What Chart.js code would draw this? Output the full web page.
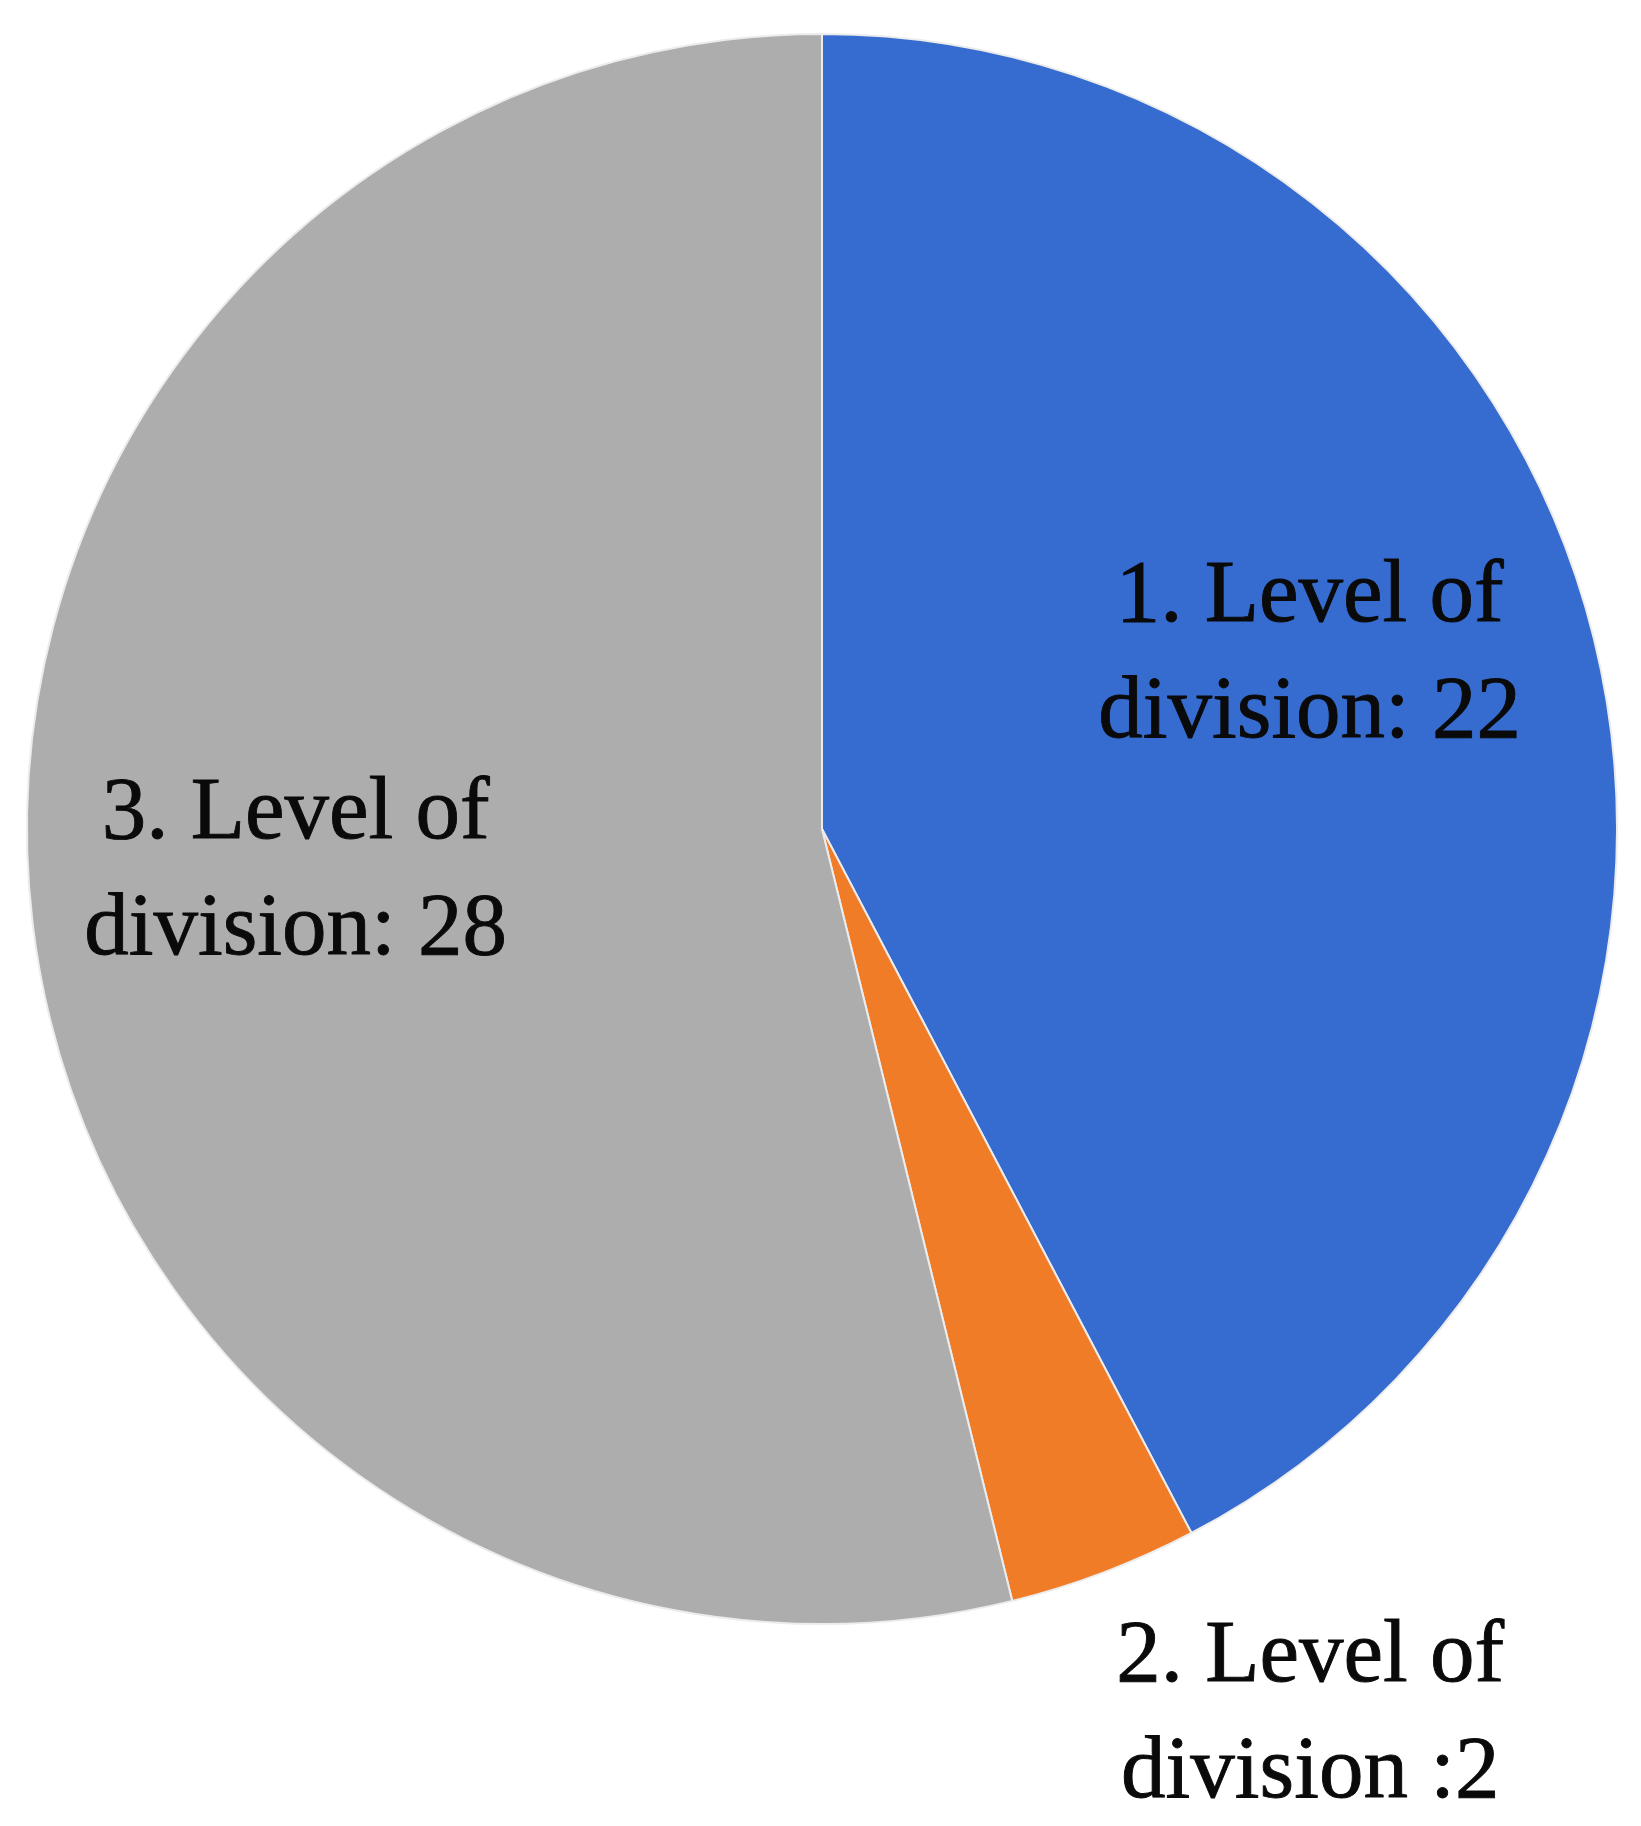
<!DOCTYPE html>
<html>
<head>
<meta charset="utf-8">
<title>Level of division</title>
<script src="https://cdn.jsdelivr.net/npm/chart.js@4.4.1/dist/chart.umd.min.js"></script>
<style>
  html, body { margin: 0; padding: 0; background: #ffffff; }
  canvas { display: block; }
</style>
</head>
<body>
<canvas id="pieChart" width="1641" height="1826"></canvas>
<script>
const categories = ['1. Level of division', '2. Level of division', '3. Level of division'];
const values = [22, 2, 28];
// text shown on each slice, one entry per line
const sliceLabels = [
  ['1. Level of', 'division: 22'],
  ['2. Level of', 'division :2'],
  ['3. Level of', 'division: 28']
];
const sliceColors = ['#366ccf', '#f07c28', '#adadad'];

// where each label sits: fraction of the radius and a small turn (degrees) off the slice middle
const labelRadius = [0.653, 1.268, 0.664];
const labelTurn = [-6.2, -8.2, 2.6];

const labelFont = 89;
const labelLine = 116;

const sliceText = {
  id: 'sliceText',
  afterDatasetsDraw(chart) {
    const ctx = chart.ctx;
    const arcs = chart.getDatasetMeta(0).data;
    ctx.save();
    ctx.font = labelFont + 'px "Liberation Serif", "Times New Roman", serif';
    ctx.fillStyle = '#0a0a0a';
    ctx.strokeStyle = '#0a0a0a';
    ctx.lineWidth = 0.9;
    ctx.textAlign = 'center';
    ctx.textBaseline = 'alphabetic';
    arcs.forEach((arc, i) => {
      const p = arc.getProps(['x', 'y', 'startAngle', 'endAngle', 'outerRadius'], true);
      const mid = (p.startAngle + p.endAngle) / 2 + labelTurn[i] * Math.PI / 180;
      const cx = p.x + Math.cos(mid) * p.outerRadius * labelRadius[i];
      const cy = p.y + Math.sin(mid) * p.outerRadius * labelRadius[i];
      const lines = sliceLabels[i];
      const capH = labelFont * 0.62;
      const first = cy - (lines.length - 1) * labelLine / 2 + capH / 2;
      lines.forEach((t, k) => {
        ctx.fillText(t, cx, first + k * labelLine);
        ctx.strokeText(t, cx, first + k * labelLine);
      });
    });
    ctx.restore();
  }
};

const config = {
  type: 'pie',
  data: {
    labels: categories,
    datasets: [{
      data: values,
      backgroundColor: sliceColors,
      borderColor: '#ececec',
      borderWidth: 2
    }]
  },
  options: {
    responsive: false,
    animation: false,
    layout: { padding: { top: 33, bottom: 201, left: 26, right: 23 } },
    plugins: {
      legend: { display: false },
      tooltip: { enabled: false }
    }
  },
  plugins: [sliceText]
};

const pie = document.getElementById('pieChart');
const pieChart = new Chart(pie, config);
</script>
</body>
</html>
